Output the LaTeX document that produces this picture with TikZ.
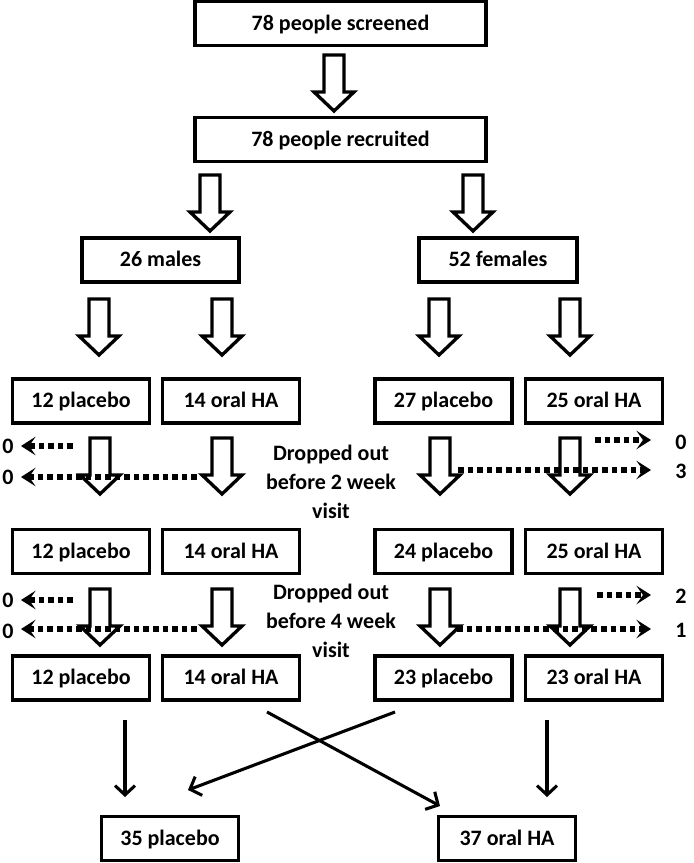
\documentclass[tikz,border=0pt]{standalone}
\usepackage{fontspec}
\setmainfont{Carlito}
\usetikzlibrary{arrows.meta,decorations.markings}
\newlength\pxu \setlength\pxu{0.75pt}
\begin{document}
\begin{tikzpicture}[x=0.75pt,y=-0.75pt,
  txt/.style={font=\fontsize{16.5}{21.5}\selectfont\bfseries, inner sep=0pt},
  box/.style={txt, draw, line width=2.4pt, minimum height=44\pxu, text height=12.5pt, text depth=2.3pt},
  sbox/.style={box, minimum width=137\pxu},
  dots/.style={line width=3.8pt, dash pattern=on 4.2pt off 3pt, shorten >=6pt,
     decoration={markings, mark=at position 1 with {\arrow[solid, line width=0.8pt]{Stealth[length=11pt,width=14pt,inset=5pt]}}},
     postaction={decorate}},
  thinarrow/.style={line width=2.3pt, -{Straight Barb[length=7pt,width=15pt,line width=2.3pt]}},
  hollow/.pic={\draw[line width=2.5pt, fill=white, line join=miter]
     (-10,0) -- (10,0) -- (10,37) -- (20,37) -- (0,56) -- (-20,37) -- (-10,37) -- cycle;}
]
\fill[white] (0,0) rectangle (693,863);
\useasboundingbox (0,0) rectangle (693,863);

% top boxes
\node[box, minimum width=291\pxu] (scr) at (340.5,23.5) {78 people screened};
\node[box, minimum width=291\pxu] (rec) at (340.5,139.5) {78 people recruited};
\pic at (334,55) {hollow};

\pic at (210,175) {hollow};
\pic at (473,175) {hollow};
\node[box, minimum width=157\pxu] (mal) at (160.5,260) {26 males};
\node[box, minimum width=158\pxu] (fem) at (498,260) {52 females};

\foreach \x in {99,222,439,570} {\pic at (\x,299) {hollow};}

% row 3
\node[sbox] (a3) at (81,401) {12 placebo};
\node[sbox] (b3) at (231,401) {14 oral HA};
\node[sbox] (c3) at (443.5,401) {27 placebo};
\node[sbox] (d3) at (594,401) {25 oral HA};

% stage 1 arrows
\foreach \x in {100,222,440,570} {\pic at (\x,438) {hollow};}
\node[txt, align=center] (drop1) at (331,482) {Dropped out\\before 2 week\\visit};
\node[txt] (l1a) at (8,446) {0};
\node[txt] (l1b) at (8,477) {0};
\node[txt] (r1a) at (681,442) {0};
\node[txt] (r1b) at (681,471) {3};
\coordinate (d1as) at (73,446);  \coordinate (d1ae) at (21,446);
\coordinate (d1bs) at (197,477); \coordinate (d1be) at (21,477);
\coordinate (e1as) at (595,440); \coordinate (e1ae) at (651,440);
\coordinate (e1bs) at (458,470); \coordinate (e1be) at (651,470);
\draw[dots] (d1as) -- (d1ae);
\draw[dots] (d1bs) -- (d1be);
\draw[dots] (e1as) -- (e1ae);
\draw[dots] (e1bs) -- (e1be);

% row 4
\node[sbox] (a4) at (81,551.5) {12 placebo};
\node[sbox] (b4) at (231,551.5) {14 oral HA};
\node[sbox] (c4) at (443.5,551.5) {24 placebo};
\node[sbox] (d4) at (594,551.5) {25 oral HA};

% stage 2 arrows
\foreach \x in {100,222,440,570} {\pic at (\x,589) {hollow};}
\node[txt, align=center] (drop2) at (331,621) {Dropped out\\before 4 week\\visit};
\node[txt] (l2a) at (8,600) {0};
\node[txt] (l2b) at (8,631) {0};
\node[txt] (r2a) at (681,596) {2};
\node[txt] (r2b) at (681,630) {1};
\coordinate (d2as) at (73,600);  \coordinate (d2ae) at (21,600);
\coordinate (d2bs) at (197,629); \coordinate (d2be) at (21,629);
\coordinate (e2as) at (597,595); \coordinate (e2ae) at (651,595);
\coordinate (e2bs) at (457,629); \coordinate (e2be) at (651,629);
\draw[dots] (d2as) -- (d2ae);
\draw[dots] (d2bs) -- (d2be);
\draw[dots] (e2as) -- (e2ae);
\draw[dots] (e2bs) -- (e2be);

% row 5
\node[sbox] (a5) at (81,678) {12 placebo};
\node[sbox] (b5) at (231,678) {14 oral HA};
\node[sbox] (c5) at (443.5,678) {23 placebo};
\node[sbox] (d5) at (594,678) {23 oral HA};

% final
\node[sbox] (fp) at (170,838.5) {35 placebo};
\node[sbox] (fh) at (507,838.5) {37 oral HA};

\coordinate (v1s) at (125,720); \coordinate (v1e) at (125,797);
\coordinate (v2s) at (547,720); \coordinate (v2e) at (547,797);
\coordinate (x1s) at (267,712); \coordinate (x1e) at (440,806);
\coordinate (x2s) at (395,712); \coordinate (x2e) at (188,790);
\draw[thinarrow] (v1s) -- (v1e);
\draw[thinarrow] (v2s) -- (v2e);
\draw[thinarrow] (x1s) -- (x1e);
\draw[thinarrow] (x2s) -- (x2e);
\end{tikzpicture}
\end{document}
